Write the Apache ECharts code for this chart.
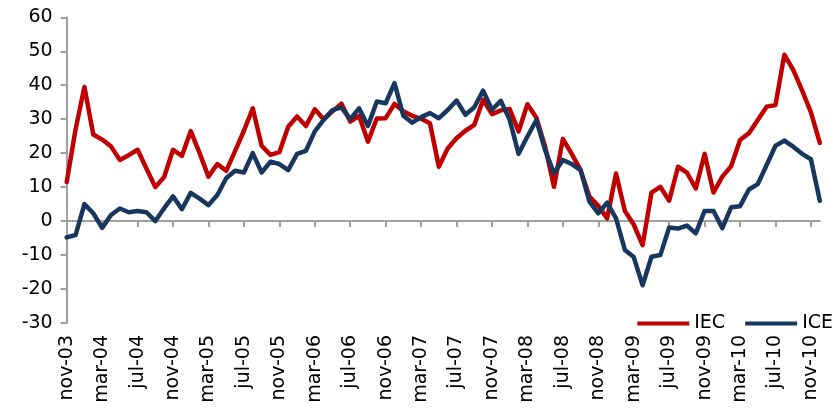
<!DOCTYPE html>
<html>
<head>
<meta charset="utf-8">
<script src="https://cdn.jsdelivr.net/npm/echarts@6/dist/echarts.min.js"></script>
<style>
html,body{margin:0;padding:0;background:#fff;}
#chart{width:840px;height:416px;}
</style>
</head>
<body>
<div id="chart"></div>
<script>
const categories = [
"nov-03","dic-03",
"ene-04","feb-04","mar-04","abr-04","may-04","jun-04","jul-04","ago-04","sep-04","oct-04","nov-04","dic-04",
"ene-05","feb-05","mar-05","abr-05","may-05","jun-05","jul-05","ago-05","sep-05","oct-05","nov-05","dic-05",
"ene-06","feb-06","mar-06","abr-06","may-06","jun-06","jul-06","ago-06","sep-06","oct-06","nov-06","dic-06",
"ene-07","feb-07","mar-07","abr-07","may-07","jun-07","jul-07","ago-07","sep-07","oct-07","nov-07","dic-07",
"ene-08","feb-08","mar-08","abr-08","may-08","jun-08","jul-08","ago-08","sep-08","oct-08","nov-08","dic-08",
"ene-09","feb-09","mar-09","abr-09","may-09","jun-09","jul-09","ago-09","sep-09","oct-09","nov-09","dic-09",
"ene-10","feb-10","mar-10","abr-10","may-10","jun-10","jul-10","ago-10","sep-10","oct-10","nov-10","dic-10"
];

const iec = [
11.5, 27, 39.5, 25.5, 24, 22, 18, 19.4, 21, 15.5, 10, 13,
21, 19.2, 26.5, 20, 13.1, 16.8, 14.8, 20.6, 26.6, 33.2, 22.2, 19.5,
20.3, 27.8, 30.8, 28, 32.9, 30, 32.3, 34.6, 29.3, 31, 23.4, 30.2,
30.3, 34.5, 32.3, 31, 30.1, 28.8, 16, 21.4, 24.4, 26.6, 28.3, 35.7,
31.5, 32.6, 33, 26.4, 34.4, 30.5, 21.9, 10.1, 24.2, 19.8, 15, 7.2,
4.5, 0.8, 14, 3, -1, -7.1, 8.4, 10.1, 6, 16, 14.3, 9.6,
19.8, 8.4, 13.1, 16.2, 23.9, 25.9, 29.8, 33.7, 34.2, 49, 44.5, 38.5,
32, 23
];

const ice = [
-4.8, -4.1, 5, 2.3, -2, 1.8, 3.7, 2.6, 3, 2.6, 0, 3.8,
7.3, 3.5, 8.3, 6.6, 4.7, 7.7, 12.6, 14.8, 14.3, 20, 14.3, 17.5,
16.8, 15, 19.8, 20.7, 26.4, 29.8, 32.7, 33.5, 30, 33.2, 28, 35.2,
34.7, 40.6, 31, 29, 30.6, 31.8, 30.3, 32.7, 35.5, 31.3, 33.5, 38.4,
32.8, 35.4, 29.8, 19.8, 24.9, 29.7, 20.9, 14.1, 18, 16.8, 15, 5.7,
2.3, 5.4, 0.8, -8.5, -10.6, -18.9, -10.5, -10, -1.9, -2.2, -1.3, -3.6,
3, 3, -2.1, 4.1, 4.4, 9.3, 10.9, 16.5, 22.2, 23.7, 21.9, 19.8,
18.2, 6
];

const seriesNames = ["IEC", "ICE"];
const yTicks = { min: -30, max: 60, interval: 10 };

const FONT = "DejaVu Sans";
const chart = echarts.init(document.getElementById('chart'), null, {renderer: 'canvas'});
chart.setOption({
  animation: false,
  backgroundColor: '#ffffff',
  grid: { left: 66.7, right: 20.2, top: 17.3, bottom: 93, containLabel: false },
  legend: {
    data: seriesNames,
    right: 2,
    top: 309,
    itemWidth: 52,
    itemHeight: 20,
    itemGap: 20,
    icon: 'path://M0,8 L52,8 L52,12 L0,12 Z',
    textStyle: { fontFamily: FONT, fontSize: 19, color: '#000' }
  },
  xAxis: [
    {
      type: 'category',
      data: categories,
      boundaryGap: false,
      axisLine: { onZero: true, lineStyle: { color: '#a0a0a0', width: 2 } },
      axisTick: { show: true, interval: 3, length: 6, lineStyle: { color: '#a0a0a0', width: 2 } },
      axisLabel: { show: false },
      splitLine: { show: false }
    },
    {
      type: 'category',
      data: categories,
      boundaryGap: false,
      position: 'bottom',
      axisLine: { show: false, onZero: false },
      axisTick: { show: false },
      axisLabel: {
        show: true, interval: 3, rotate: 90, margin: 12,
        padding: [10, 0, 0, 0],
        fontFamily: FONT, fontSize: 19, color: '#000'
      },
      splitLine: { show: false }
    }
  ],
  yAxis: {
    type: 'value',
    min: yTicks.min, max: yTicks.max, interval: yTicks.interval,
    axisLine: { show: true, lineStyle: { color: '#a0a0a0', width: 2 } },
    axisTick: { show: true, length: 6, lineStyle: { color: '#a0a0a0', width: 2 } },
    axisLabel: { margin: 14, fontFamily: FONT, fontSize: 19, color: '#000' },
    splitLine: { show: false }
  },
  series: [
    {
      name: seriesNames[0], type: 'line', data: iec, xAxisIndex: 0,
      symbol: 'none', smooth: false,
      lineStyle: { color: '#C00000', width: 4.5, cap: 'round', join: 'round' },
      itemStyle: { color: '#C00000' }
    },
    {
      name: seriesNames[1], type: 'line', data: ice, xAxisIndex: 0,
      symbol: 'none', smooth: false,
      lineStyle: { color: '#17375E', width: 4.5, cap: 'round', join: 'round' },
      itemStyle: { color: '#17375E' }
    }
  ]
});
</script>
</body>
</html>
